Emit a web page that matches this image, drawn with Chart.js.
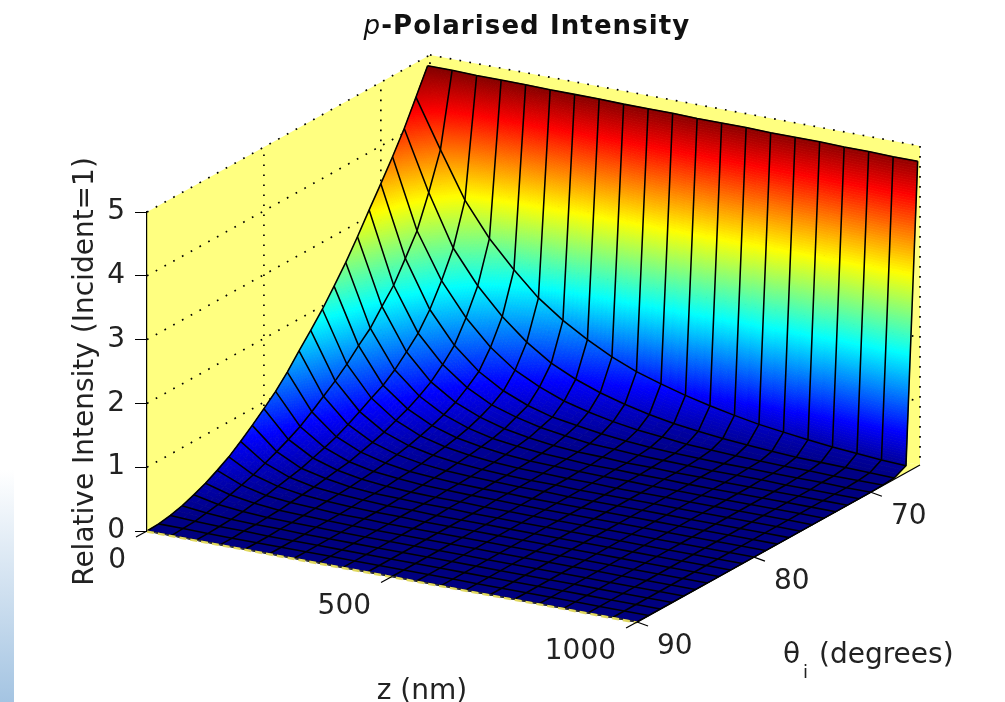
<!DOCTYPE html>
<html><head><meta charset="utf-8">
<script src="https://cdn.jsdelivr.net/npm/chart.js@4/dist/chart.umd.min.js"></script>
<style>
html,body{margin:0;padding:0;background:#fff;overflow:hidden;width:1005px;height:702px}
#side{position:absolute;left:0;top:470px;width:14px;height:232px;background:linear-gradient(#ffffff,#a4c4e2)}
#c{position:absolute;left:0;top:0;filter:blur(0.45px)}
</style></head><body>
<div id="side"></div>
<canvas id="c" width="1005" height="702"></canvas>
<script>
const titleItalic = "p";
const titleBold = "-Polarised Intensity";
const yLabel = "Relative Intensity (Incident=1)";
const zLabel = "z (nm)";
const thetaSymbol = "θ", thetaSub = "i", thetaUnit = "(degrees)";
const zTicks = [0,500,1000];
const thetaTicks = [70,80,90];
const zValues = [0,50,100,150,200,250,300,350,400,450,500,550,600,650,700,750,800,850,900,950,1000];
const thetaValues = [66,67,68,69,70,71,72,73,74,75,76,77,78,79,80,81,82,83,84,85,86,87,88,89,90];
const I66 = [4.85,4.85,4.84,4.84,4.84,4.83,4.83,4.83,4.82,4.82,4.82,4.81,4.81,4.81,4.80,4.80,4.80,4.79,4.79,4.78,4.78];
const I67 = [4.46,3.71,2.99,2.46,2.04,1.67,1.39,1.16,0.96,0.80,0.68,0.57,0.48,0.40,0.33,0.28,0.23,0.19,0.16,0.13,0.11];
const I68 = [4.07,3.14,2.34,1.82,1.41,1.08,0.82,0.64,0.50,0.39,0.30,0.23,0.18,0.14,0.11,0.08,0.06,0.05,0.04,0.03,0.02];
const I69 = [3.73,2.64,1.93,1.42,1.03,0.74,0.55,0.40,0.30,0.22,0.16,0.12,0.08,0.06,0.04,0.03,0.02,0.02,0.01,0.01,0.01];
const I70 = [3.41,2.31,1.58,1.09,0.75,0.52,0.36,0.25,0.19,0.13,0.09,0.06,0.04,0.03,0.02,0.02,0.01,0.01,0.01,0,0];
const I71 = [3.10,1.99,1.31,0.89,0.60,0.40,0.28,0.19,0.13,0.08,0.06,0.04,0.03,0.02,0.01,0.01,0.01,0,0,0,0];
const I72 = [2.78,1.76,1.12,0.72,0.47,0.31,0.20,0.13,0.08,0.05,0.04,0.02,0.02,0.01,0.01,0,0,0,0,0,0];
const I73 = [2.48,1.52,0.94,0.60,0.38,0.24,0.15,0.10,0.06,0.04,0.02,0.02,0.01,0.01,0,0,0,0,0,0,0];
const I74 = [2.21,1.35,0.80,0.50,0.31,0.19,0.12,0.07,0.04,0.03,0.02,0.01,0.01,0,0,0,0,0,0,0,0];
const I75 = [1.95,1.16,0.70,0.42,0.25,0.15,0.09,0.05,0.03,0.02,0.01,0.01,0,0,0,0,0,0,0,0,0];
const I76 = [1.72,1.00,0.59,0.34,0.20,0.12,0.07,0.04,0.02,0.01,0.01,0,0,0,0,0,0,0,0,0,0];
const I77 = [1.50,0.86,0.49,0.28,0.16,0.09,0.05,0.03,0.02,0.01,0.01,0,0,0,0,0,0,0,0,0,0];
const I78 = [1.27,0.72,0.40,0.23,0.13,0.07,0.04,0.02,0.01,0.01,0,0,0,0,0,0,0,0,0,0,0];
const I79 = [1.07,0.59,0.33,0.18,0.10,0.06,0.03,0.02,0.01,0.01,0,0,0,0,0,0,0,0,0,0,0];
const I80 = [0.90,0.49,0.27,0.15,0.08,0.04,0.02,0.01,0.01,0,0,0,0,0,0,0,0,0,0,0,0];
const I81 = [0.74,0.40,0.21,0.12,0.06,0.03,0.02,0.01,0.01,0,0,0,0,0,0,0,0,0,0,0,0];
const I82 = [0.59,0.32,0.17,0.09,0.05,0.03,0.01,0.01,0,0,0,0,0,0,0,0,0,0,0,0,0];
const I83 = [0.45,0.24,0.13,0.07,0.04,0.02,0.01,0.01,0,0,0,0,0,0,0,0,0,0,0,0,0];
const I84 = [0.34,0.18,0.09,0.05,0.03,0.01,0.01,0,0,0,0,0,0,0,0,0,0,0,0,0,0];
const I85 = [0.24,0.13,0.07,0.03,0.02,0.01,0,0,0,0,0,0,0,0,0,0,0,0,0,0,0];
const I86 = [0.16,0.08,0.04,0.02,0.01,0.01,0,0,0,0,0,0,0,0,0,0,0,0,0,0,0];
const I87 = [0.09,0.05,0.02,0.01,0.01,0,0,0,0,0,0,0,0,0,0,0,0,0,0,0,0];
const I88 = [0.04,0.02,0.01,0.01,0,0,0,0,0,0,0,0,0,0,0,0,0,0,0,0,0];
const I89 = [0.01,0.01,0,0,0,0,0,0,0,0,0,0,0,0,0,0,0,0,0,0,0];
const I90 = [0,0,0,0,0,0,0,0,0,0,0,0,0,0,0,0,0,0,0,0,0];
const intensity = [I66,I67,I68,I69,I70,I71,I72,I73,I74,I75,I76,I77,I78,I79,I80,I81,I82,I83,I84,I85,I86,I87,I88,I89,I90];

// view of the 3-D box, in data units
const THETA_MIN = 65.8, THETA_MAX = 90, Z_MAX = 1000, I_MAX = 5, C_MAX = 4.85;
const X_PER_DEG = 23.86;        // horizontal drift of one degree, in x-scale units
const Y_PER_DEG = 6.49/63.8;    // vertical drift of one degree, in y-scale units
const Y_PER_NM  = 91/63.8/1000; // vertical drift of one nm, in y-scale units
const projX = (z,t) => z + (THETA_MAX-t)*X_PER_DEG;
const projY = (z,t,i) => i + (THETA_MAX-t)*Y_PER_DEG - z*Y_PER_NM;

const FONT = "'DejaVu Sans'";
const clamp = v => Math.max(0,Math.min(1,v));
function jet(v){
  const t = clamp(v/C_MAX);
  const f = k => Math.round(255*clamp(1.5-Math.abs(4*t-k)));
  return `rgb(${f(3)},${f(2)},${f(1)})`;
}

// mesh lines: one dataset per theta, one per z
const lineStyle = {showLine:true,pointRadius:0,borderColor:'#000',borderWidth:1.55,tension:0,clip:false,fill:false};
const datasets = [];
thetaValues.forEach((t,a)=>datasets.push({...lineStyle,label:'θ='+t,
  data:zValues.map((z,b)=>({x:projX(z,t),y:projY(z,t,intensity[a][b])}))}));
zValues.forEach((z,b)=>datasets.push({...lineStyle,label:'z='+z,
  data:thetaValues.map((t,a)=>({x:projX(z,t),y:projY(z,t,intensity[a][b])}))}));

function pt(chart,z,t,i){
  return [chart.scales.x.getPixelForValue(projX(z,t)),chart.scales.y.getPixelForValue(projY(z,t,i))];
}
function poly(ctx,pts){
  ctx.beginPath();
  pts.forEach((p,k)=>k?ctx.lineTo(p[0],p[1]):ctx.moveTo(p[0],p[1]));
  ctx.closePath();
}
function dotted(ctx,chart,a,b){
  ctx.beginPath();
  ctx.moveTo(...pt(chart,...a));
  ctx.lineTo(...pt(chart,...b));
  ctx.stroke();
}

const box3d = {
  id:'box3d',
  beforeDraw(chart){
    const ctx = chart.ctx;
    ctx.save();
    ctx.fillStyle = '#ffff80';
    const T0=THETA_MAX,T1=THETA_MIN,Z=Z_MAX,H=I_MAX;
    poly(ctx,[pt(chart,0,T0,0),pt(chart,0,T0,H),pt(chart,0,T1,H),pt(chart,0,T1,0)]);ctx.fill();
    poly(ctx,[pt(chart,0,T1,0),pt(chart,0,T1,H),pt(chart,Z,T1,H),pt(chart,Z,T1,0)]);ctx.fill();
    poly(ctx,[pt(chart,0,T0,0),pt(chart,Z,T0,0),pt(chart,Z,T1,0),pt(chart,0,T1,0)]);ctx.fill();
    ctx.strokeStyle='#000';ctx.lineWidth=1.7;ctx.setLineDash([1.7,8.3]);
    dotted(ctx,chart,[0,T0,H],[0,T1,H]);
    dotted(ctx,chart,[0,T1,H],[Z,T1,H]);
    dotted(ctx,chart,[Z,T1,H],[Z,T1,0]);
    dotted(ctx,chart,[0,T1,0],[0,T1,H]);
    [1,2,3,4].forEach(i=>{dotted(ctx,chart,[0,T0,i],[0,T1,i]);dotted(ctx,chart,[0,T1,i],[Z,T1,i]);});
    [70,80].forEach(t=>dotted(ctx,chart,[0,t,0],[0,t,H]));
    ctx.restore();
  },
  beforeDatasetsDraw(chart){
    const ctx = chart.ctx;
    ctx.save();
    ctx.lineWidth=0.8;
    const PX = 63.8;
    for(let a=0;a<thetaValues.length-1;a++){
      for(let b=0;b<zValues.length-1;b++){
        const i00=intensity[a][b],i01=intensity[a][b+1],i10=intensity[a+1][b],i11=intensity[a+1][b+1];
        const nu=Math.min(200,Math.max(1,Math.ceil(Math.max(Math.abs(i10-i00),Math.abs(i11-i01))*PX/2.5)));
        const nv=Math.min(40,Math.max(1,Math.ceil(Math.max(Math.abs(i01-i00),Math.abs(i11-i10))*PX/2.5)));
        const val=(u,v)=>(i00*(1-v)+i01*v)*(1-u)+(i10*(1-v)+i11*v)*u;
        const P=(u,v)=>pt(chart,zValues[b]+(zValues[b+1]-zValues[b])*v,thetaValues[a]+(thetaValues[a+1]-thetaValues[a])*u,val(u,v));
        for(let k=0;k<nu;k++)for(let m=0;m<nv;m++){
          const u0=k/nu,u1=(k+1)/nu,v0=m/nv,v1=(m+1)/nv;
          const c=jet(val((u0+u1)/2,(v0+v1)/2));
          ctx.fillStyle=c;ctx.strokeStyle=c;
          poly(ctx,[P(u0,v0),P(u0,v1),P(u1,v1),P(u1,v0)]);
          ctx.fill();ctx.stroke();
        }
      }
    }
    ctx.restore();
  },
  afterDatasetsDraw(chart){
    const ctx = chart.ctx;
    ctx.save();
    // front edges of the box
    const e0=pt(chart,0,THETA_MAX,0),e1=pt(chart,Z_MAX,THETA_MAX,0);
    ctx.strokeStyle='#444';ctx.lineWidth=1;ctx.beginPath();ctx.moveTo(e0[0],e0[1]);ctx.lineTo(e1[0],e1[1]);ctx.stroke();
    ctx.strokeStyle='#e0d860';ctx.lineWidth=2.4;ctx.setLineDash([7,4]);
    ctx.beginPath();
    ctx.moveTo(e0[0],e0[1]+0.6);ctx.lineTo(e1[0],e1[1]+0.6);ctx.stroke();
    ctx.setLineDash([]);ctx.strokeStyle='#000';ctx.lineWidth=1.2;
    const a0=pt(chart,Z_MAX,THETA_MAX,0),a1=pt(chart,Z_MAX,THETA_MIN,0);
    ctx.beginPath();ctx.moveTo(a0[0],a0[1]);ctx.lineTo(a1[0],a1[1]);ctx.stroke();
    // oblique ticks
    zTicks.forEach(z=>{const p=pt(chart,z,THETA_MAX,0);ctx.beginPath();ctx.moveTo(p[0],p[1]);ctx.lineTo(p[0]-11,p[1]+6);ctx.stroke();});
    thetaTicks.forEach(t=>{const p=pt(chart,Z_MAX,t,0);ctx.beginPath();ctx.moveTo(p[0],p[1]);ctx.lineTo(p[0]+11,p[1]+4);ctx.stroke();});
    // tick labels
    ctx.fillStyle='#222';ctx.font="28px "+FONT;ctx.textBaseline='middle';
    ctx.textAlign='right';
    zTicks.forEach(z=>{const p=pt(chart,z,THETA_MAX,0);ctx.fillText(String(z),p[0]-21,p[1]+30);});
    ctx.textAlign='left';
    thetaTicks.forEach(t=>{const p=pt(chart,Z_MAX,t,0);ctx.fillText(String(t),p[0]+20,p[1]+25);});
    // axis titles
    ctx.textBaseline='alphabetic';
    ctx.textAlign='center';
    ctx.fillText(zLabel,422,699);
    ctx.textAlign='left';
    ctx.fillText(thetaSymbol,783,663);
    ctx.font="18px "+FONT;ctx.fillText(thetaSub,803,678);
    ctx.font="28px "+FONT;ctx.fillText(thetaUnit,819,663);
    // title
    ctx.fillStyle='#111';
    ctx.letterSpacing='1.1px';
    ctx.font="italic 26px "+FONT;
    const w1=ctx.measureText(titleItalic).width;
    ctx.font="bold 26px "+FONT;
    const w2=ctx.measureText(titleBold).width;
    const x0=527-(w1+w2)/2;
    ctx.font="italic 26px "+FONT;ctx.fillText(titleItalic,x0,34);
    ctx.font="bold 26px "+FONT;ctx.fillText(titleBold,x0+w1,34);
    ctx.restore();
  }
};

new Chart(document.getElementById('c'),{
  type:'scatter',
  data:{datasets},
  plugins:[box3d],
  options:{
    responsive:false,animation:false,
    layout:{padding:{left:69,right:85,top:212,bottom:171}},
    plugins:{legend:{display:false},tooltip:{enabled:false},title:{display:false}},
    scales:{
      x:{type:'linear',display:false,min:0,max:Z_MAX+(THETA_MAX-THETA_MIN)*X_PER_DEG},
      y:{type:'linear',min:0,max:I_MAX,
        afterFit(s){s.width=78;},
        border:{display:true,color:'#000',width:1.2},
        grid:{drawOnChartArea:false,drawTicks:true,tickLength:12,tickColor:'#000'},
        ticks:{stepSize:1,color:'#222',padding:10,font:{family:"DejaVu Sans",size:28}},
        title:{display:true,text:yLabel,color:'#222',padding:0,font:{family:"DejaVu Sans",size:28}}
      }
    }
  }
});
</script>
</body></html>
